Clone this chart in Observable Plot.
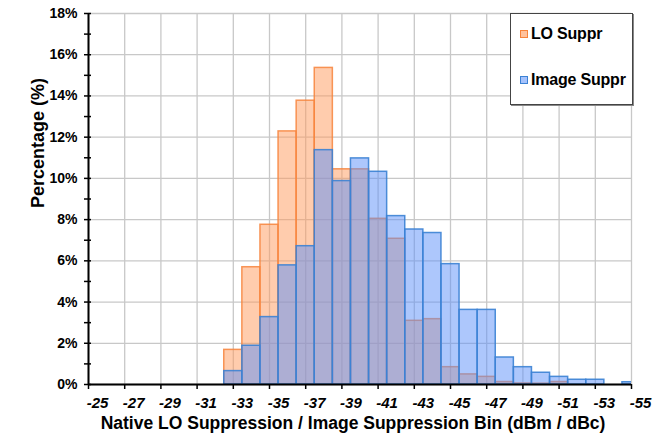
<!DOCTYPE html>
<html><head><meta charset="utf-8">
<script src="https://cdn.jsdelivr.net/npm/d3@7"></script>
<script src="https://cdn.jsdelivr.net/npm/@observablehq/plot@0.6"></script>
<style>
body{margin:0;background:#fff;font-family:"Liberation Sans",Arial,sans-serif;}
#wrap{position:relative;width:670px;height:442px;}
.legend{position:absolute;left:510px;top:13px;width:121px;height:90px;border:1px solid #444;box-shadow:1px 1px 0 #888;background:#fff;font-weight:bold;font-size:16px;color:#000;}
.item{position:absolute;left:9px;display:flex;align-items:center;white-space:nowrap;letter-spacing:-0.2px;}
.sw{width:6px;height:6px;margin-right:3px;}
</style></head><body><div id="wrap"></div>
<script>
const bins = [-33,-34,-35,-36,-37,-38,-39,-40,-41,-42,-43,-44,-45,-46,-47,-48,-49,-50,-51,-52,-53,-54,-55];
const loSuppr = [1.68,5.69,7.75,12.28,13.77,15.36,10.44,10.44,8.04,7.07,3.09,3.17,0.84,0.49,0.37,0.12,0.05,0.04,0.12,0,0,0,0];
const imageSuppr = [0.65,1.88,3.27,5.78,6.71,11.37,9.87,10.97,10.32,8.17,7.52,7.35,5.84,3.62,3.62,1.31,0.84,0.57,0.37,0.23,0.23,0,0.11];
const xTickValues = [-25,-27,-29,-31,-33,-35,-37,-39,-41,-43,-45,-47,-49,-51,-53,-55];
const yTickValues = [0,2,4,6,8,10,12,14,16,18];
const yMinorTicks = [0,1,2,3,4,5,6,7,8,9,10,11,12,13,14,15,16,17,18];
const seriesNames = ["LO Suppr","Image Suppr"];
const xTitle = "Native LO Suppression / Image Suppression Bin (dBm / dBc)";
const yTitle = "Percentage (%)";

const loData = bins.map((b,i)=>({bin:b, v:loSuppr[i]})).filter(d=>d.v>0);
const imgData = bins.map((b,i)=>({bin:b, v:imageSuppr[i]})).filter(d=>d.v>0);

const font = '"Liberation Sans", Arial, sans-serif';
const chart = Plot.plot({
  width:670, height:442,
  marginLeft:88, marginRight:39, marginTop:13, marginBottom:58,
  style:{fontFamily:font, background:"#fff", overflow:"visible"},
  x:{type:"linear", domain:[-25,-55], label:null},
  y:{domain:[0,18], label:null},
  marks:[
    Plot.gridY(yTickValues,{stroke:"#c8c8c8", strokeOpacity:1, strokeWidth:1.3}),
    Plot.gridX(xTickValues,{stroke:"#c8c8c8", strokeOpacity:1, strokeWidth:1.3}),
    Plot.rectY(loData,{x1:d=>d.bin+0.5, x2:d=>d.bin-0.5, y:"v", fill:"#ff9a5c", fillOpacity:0.5, stroke:"#f7843c", strokeWidth:1.5, strokeOpacity:0.85, inset:0, clip:true}),
    Plot.rectY(imgData,{x1:d=>d.bin+0.5, x2:d=>d.bin-0.5, y:"v", fill:"#5b8ff9", fillOpacity:0.5, stroke:"#3b82d4", strokeWidth:1.5, strokeOpacity:0.9, inset:0, clip:true}),
    Plot.axisY(yMinorTicks,{tickSize:4, tickFormat:()=>"", stroke:"#000", strokeWidth:1.5, label:null}),
    Plot.axisY(yMinorTicks,{tickSize:-3, tickFormat:()=>"", stroke:"#000", strokeWidth:1.5, label:null}),
    Plot.axisY(yTickValues,{tickSize:0, tickPadding:11, tickFormat:d=>d+"%", fontSize:14, fontWeight:"bold", fill:"#000", label:null}),
    Plot.axisX(xTickValues,{tickSize:5, tickFormat:()=>"", stroke:"#000", strokeWidth:1.5, label:null}),
    Plot.axisX(xTickValues,{tickSize:0, tickPadding:13, dx:9, tickFormat:d=>String(d), fontSize:15, fontWeight:"bold", fontStyle:"italic", fill:"#000", label:null}),
    Plot.ruleY([0],{stroke:"#000", strokeWidth:2}),
    Plot.ruleX([-25],{stroke:"#000", strokeWidth:2}),
    Plot.text([xTitle],{frameAnchor:"bottom", text:d=>d, dx:-7, dy:44, fontSize:17.5, fontWeight:"bold", fill:"#000"}),
    Plot.text([yTitle],{frameAnchor:"left", text:d=>d, rotate:-90, dx:-50, dy:9, fontSize:18, fontWeight:"bold", fill:"#000"})
  ]
});
const wrap = document.getElementById("wrap");
wrap.appendChild(chart);
const leg = document.createElement("div");
leg.className = "legend";
const items = [
  {name:seriesNames[0], fill:"rgba(255,154,92,0.6)", stroke:"#f7843c", top:11},
  {name:seriesNames[1], fill:"rgba(91,143,249,0.55)", stroke:"#3b82d4", top:57}
];
for (const it of items){
  const row = document.createElement("div");
  row.className = "item";
  row.style.top = it.top + "px";
  const sw = document.createElement("span");
  sw.className = "sw";
  sw.style.background = it.fill;
  sw.style.border = "1px solid " + it.stroke;
  const tx = document.createElement("span");
  tx.textContent = it.name;
  row.appendChild(sw); row.appendChild(tx);
  leg.appendChild(row);
}
wrap.appendChild(leg);
</script></body></html>
